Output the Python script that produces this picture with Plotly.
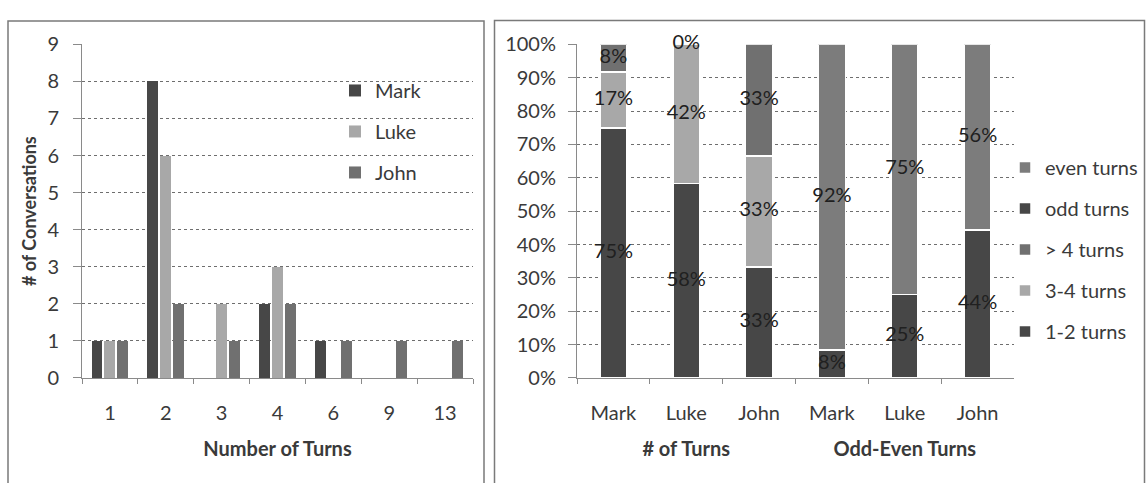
import numpy as np
import plotly.graph_objects as go

# ---- Left panel: number of conversations by number of turns ----
turns = ["1", "2", "3", "4", "6", "9", "13"]
mark_counts = [1, 8, 0, 2, 1, 0, 0]
luke_counts = [1, 6, 2, 3, 0, 0, 0]
john_counts = [1, 2, 1, 2, 1, 1, 1]

# ---- Right panel: percentage breakdowns per gospel ----
gospels = ["Mark", "Luke", "John"]
turns_1_2 = [75.0, 58.3, 33.3]
turns_3_4 = [16.7, 41.7, 33.3]
turns_gt4 = [8.3, 0.0, 33.4]
odd_turns = [8.3, 25.0, 44.4]
even_turns = [91.7, 75.0, 55.6]

W, H = 1147, 483
FONT = "Lato"
TEXT = "#3a3a3a"
LABEL = "#202020"
AXIS = "#8a8a8a"
GRID = "#6e6e6e"
DARK = "#474747"
LIGHT = "#a8a8a8"
MID = "#707070"
EVEN = "#7c7c7c"

fig = go.Figure()

# grouped bars drawn side by side inside each category slot
left_series = [
    ("Mark", mark_counts, DARK, -0.33),
    ("Luke", luke_counts, LIGHT, -0.10),
    ("John", john_counts, MID, 0.13),
]
for name, vals, color, off in left_series:
    fig.add_trace(go.Bar(
        x=turns, y=vals, name=name, base=0, offset=off, width=0.195,
        marker=dict(color=color, line=dict(width=0)),
        xaxis="x", yaxis="y", legend="legend", legendgroup=name,
    ))

# stacked percentage bars: one x axis per group, sharing the same y axis
right_series = [
    ("1-2 turns", "x2", turns_1_2, DARK, 5),
    ("3-4 turns", "x2", turns_3_4, LIGHT, 4),
    ("> 4 turns", "x2", turns_gt4, MID, 3),
    ("odd turns", "x3", odd_turns, DARK, 2),
    ("even turns", "x3", even_turns, EVEN, 1),
]
for name, xa, vals, color, rank in right_series:
    fig.add_trace(go.Bar(
        x=gospels, y=vals, name=name,
        marker=dict(color=color, line=dict(color="white", width=1.5)),
        xaxis=xa, yaxis="y2", legend="legend2", legendgroup=name,
        legendrank=rank,
    ))

# segment labels centred in each stacked segment
for xa, stack in (("x2", [turns_1_2, turns_3_4, turns_gt4]),
                  ("x3", [odd_turns, even_turns])):
    arr = np.array(stack)
    mids = np.cumsum(arr, axis=0) - arr / 2
    for vals, ys in zip(arr, mids):
        fig.add_trace(go.Scatter(
            x=gospels, y=ys, mode="text",
            text=[f"{v:.0f}%" for v in vals],
            textfont=dict(family=FONT, size=20, color=LABEL),
            textposition="middle center", cliponaxis=False,
            showlegend=False, hoverinfo="skip",
            xaxis=xa, yaxis="y2",
        ))

ydom = [99 / H, 450 / H]
common_y = dict(
    ticks="outside", ticklen=8, tickcolor=AXIS,
    showline=True, linecolor=AXIS, linewidth=1,
    showgrid=True, gridcolor=GRID, griddash="dot", gridwidth=1,
    zeroline=False, tickfont=dict(size=20, color=TEXT),
)
common_x = dict(
    type="category", ticks="outside", ticklen=5, tickcolor=AXIS,
    tickson="boundaries", showline=True, linecolor=AXIS, linewidth=1,
    showgrid=False, tickfont=dict(size=20, color=TEXT),
    ticklabelstandoff=17,
)
xtitle_font = dict(size=20, color=TEXT)

fig.update_layout(
    width=W, height=H,
    margin=dict(l=0, r=0, t=0, b=0),
    paper_bgcolor="white", plot_bgcolor="white",
    barmode="stack", bargap=0.63,
    font=dict(family=FONT, size=18, color=TEXT),
    xaxis=dict(
        domain=[82 / W, 473 / W], anchor="y",
        title=dict(text="<b>Number of Turns</b>", font=xtitle_font, standoff=19),
        **common_x,
    ),
    yaxis=dict(
        domain=ydom, range=[0, 9], dtick=1, anchor="x", ticklabelstandoff=10,
        title=dict(text="<b># of Conversations</b>", font=dict(size=18, color=TEXT), standoff=6),
        **common_y,
    ),
    xaxis2=dict(
        domain=[577 / W, 795.5 / W], anchor="y2",
        title=dict(text="<b># of Turns</b>", font=xtitle_font, standoff=19),
        **common_x,
    ),
    xaxis3=dict(
        domain=[795.5 / W, 1014 / W], anchor="y2",
        title=dict(text="<b>Odd-Even Turns</b>", font=xtitle_font, standoff=19),
        **common_x,
    ),
    yaxis2=dict(
        domain=ydom, range=[0, 100], dtick=10, ticksuffix="%", anchor="x2",
        ticklabelstandoff=8,
        **common_y,
    ),
    legend=dict(
        x=335 / W, y=(H - 61) / H, xanchor="left", yanchor="top",
        font=dict(size=20, color=TEXT), bgcolor="rgba(0,0,0,0)",
        traceorder="grouped", tracegroupgap=12,
    ),
    legend2=dict(
        x=1005 / W, y=(H - 142) / H, xanchor="left", yanchor="top",
        font=dict(size=20, color=TEXT), bgcolor="rgba(0,0,0,0)",
        traceorder="grouped", tracegroupgap=12,
    ),
    shapes=[
        dict(type="rect", xref="paper", yref="paper",
             x0=8 / W, x1=484 / W, y0=-0.05, y1=(H - 8.5) / H,
             line=dict(color="#7a7a7a", width=1.5), layer="below"),
        dict(type="rect", xref="paper", yref="paper",
             x0=494.5 / W, x1=1144.5 / W, y0=-0.05, y1=(H - 8) / H,
             line=dict(color="#7a7a7a", width=1.5), layer="below"),
    ],
)

fig.write_html("out.html")
